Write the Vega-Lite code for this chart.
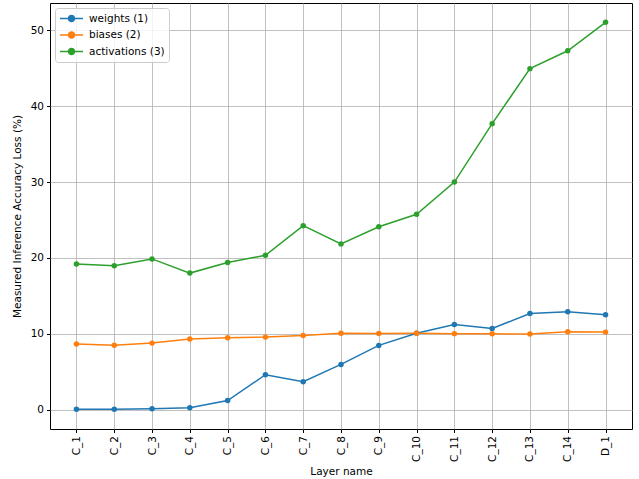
{
  "$schema": "https://vega.github.io/schema/vega-lite/v6.json",
  "width": 582,
  "height": 426,
  "autosize": {"type": "none"},
  "padding": {"left": 50, "top": 3, "right": 7, "bottom": 50},
  "background": "white",
  "config": {
    "font": "DejaVu Sans",
    "view": {"stroke": "#000000", "strokeWidth": 1},
    "axis": {
      "labelFont": "DejaVu Sans", "titleFont": "DejaVu Sans",
      "labelFontSize": 10.5, "titleFontSize": 10.5, "titleFontWeight": "normal",
      "labelColor": "#000000", "titleColor": "#000000",
      "tickColor": "#000000", "tickSize": 3.5, "domain": false,
      "grid": true, "gridColor": "#b0b0b0", "gridWidth": 0.8
    },
    "legend": {"labelFont": "DejaVu Sans", "labelFontSize": 10.5, "labelColor": "#000000"}
  },
  "data": {"values": [
    {"layer": "C_1", "series": "weights (1)", "value": 0.05},
    {"layer": "C_2", "series": "weights (1)", "value": 0.05},
    {"layer": "C_3", "series": "weights (1)", "value": 0.13},
    {"layer": "C_4", "series": "weights (1)", "value": 0.24},
    {"layer": "C_5", "series": "weights (1)", "value": 1.2},
    {"layer": "C_6", "series": "weights (1)", "value": 4.6},
    {"layer": "C_7", "series": "weights (1)", "value": 3.68},
    {"layer": "C_8", "series": "weights (1)", "value": 5.96},
    {"layer": "C_9", "series": "weights (1)", "value": 8.47},
    {"layer": "C_10", "series": "weights (1)", "value": 10.08},
    {"layer": "C_11", "series": "weights (1)", "value": 11.23},
    {"layer": "C_12", "series": "weights (1)", "value": 10.7},
    {"layer": "C_13", "series": "weights (1)", "value": 12.68},
    {"layer": "C_14", "series": "weights (1)", "value": 12.9},
    {"layer": "D_1", "series": "weights (1)", "value": 12.5},
    {"layer": "C_1", "series": "biases (2)", "value": 8.64},
    {"layer": "C_2", "series": "biases (2)", "value": 8.5},
    {"layer": "C_3", "series": "biases (2)", "value": 8.77},
    {"layer": "C_4", "series": "biases (2)", "value": 9.3},
    {"layer": "C_5", "series": "biases (2)", "value": 9.47},
    {"layer": "C_6", "series": "biases (2)", "value": 9.56},
    {"layer": "C_7", "series": "biases (2)", "value": 9.78},
    {"layer": "C_8", "series": "biases (2)", "value": 10.08},
    {"layer": "C_9", "series": "biases (2)", "value": 10.04},
    {"layer": "C_10", "series": "biases (2)", "value": 10.08},
    {"layer": "C_11", "series": "biases (2)", "value": 10.02},
    {"layer": "C_12", "series": "biases (2)", "value": 10.0},
    {"layer": "C_13", "series": "biases (2)", "value": 9.97},
    {"layer": "C_14", "series": "biases (2)", "value": 10.26},
    {"layer": "D_1", "series": "biases (2)", "value": 10.22},
    {"layer": "C_1", "series": "activations (3)", "value": 19.2},
    {"layer": "C_2", "series": "activations (3)", "value": 18.97},
    {"layer": "C_3", "series": "activations (3)", "value": 19.87},
    {"layer": "C_4", "series": "activations (3)", "value": 18.0},
    {"layer": "C_5", "series": "activations (3)", "value": 19.4},
    {"layer": "C_6", "series": "activations (3)", "value": 20.35},
    {"layer": "C_7", "series": "activations (3)", "value": 24.25},
    {"layer": "C_8", "series": "activations (3)", "value": 21.85},
    {"layer": "C_9", "series": "activations (3)", "value": 24.1},
    {"layer": "C_10", "series": "activations (3)", "value": 25.75},
    {"layer": "C_11", "series": "activations (3)", "value": 30.0},
    {"layer": "C_12", "series": "activations (3)", "value": 37.7},
    {"layer": "C_13", "series": "activations (3)", "value": 44.95},
    {"layer": "C_14", "series": "activations (3)", "value": 47.3},
    {"layer": "D_1", "series": "activations (3)", "value": 51.05}
  ]},
  "encoding": {
    "x": {
      "field": "layer", "type": "ordinal",
      "sort": ["C_1","C_2","C_3","C_4","C_5","C_6","C_7","C_8","C_9","C_10","C_11","C_12","C_13","C_14","D_1"],
      "scale": {"type": "point", "padding": 0.7},
      "axis": {"title": "Layer name", "labelAngle": 270, "labelPadding": 3, "titlePadding": 5}
    },
    "y": {
      "field": "value", "type": "quantitative",
      "scale": {"domain": [-2.55, 53.6], "nice": false, "zero": false},
      "axis": {"title": "Measured Inference Accuracy Loss (%)", "values": [0, 10, 20, 30, 40, 50], "labelPadding": 3, "titlePadding": 8}
    },
    "color": {
      "field": "series", "type": "nominal",
      "scale": {"domain": ["weights (1)", "biases (2)", "activations (3)"], "range": ["#1f77b4", "#ff7f0e", "#2ca02c"]},
      "legend": {
        "title": null, "orient": "top-left", "offset": 5,
        "fillColor": "rgba(255,255,255,0.8)", "strokeColor": "#cccccc", "padding": 4, "cornerRadius": 3,
        "symbolType": "M-2,0H2M-0.52,0A0.52,0.52,0,1,1,0.52,0A0.52,0.52,0,1,1,-0.52,0Z",
        "symbolSize": 132, "symbolStrokeWidth": 1.5, "symbolOffset": 6, "rowPadding": 3.5, "labelOffset": 11
      }
    }
  },
  "layer": [
    {"mark": {"type": "line", "strokeWidth": 1.5}},
    {"mark": {"type": "point", "filled": true, "opacity": 1, "size": 30}}
  ]
}
